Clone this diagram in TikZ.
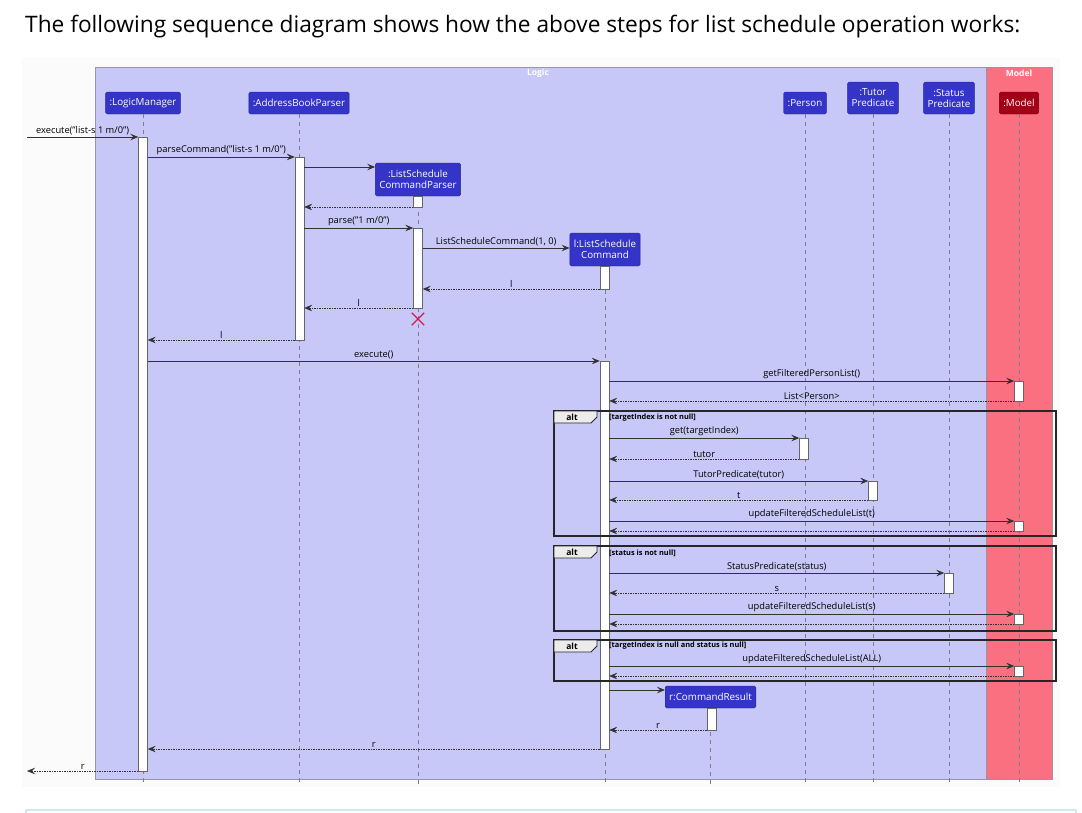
\documentclass[tikz,border=0pt]{standalone}
\usepackage{fontspec}
\setmainfont{Open Sans}
\usetikzlibrary{arrows.meta, shapes.misc}
\definecolor{pagegray}{RGB}{251,251,251}
\definecolor{logicfill}{RGB}{200,200,248}
\definecolor{modelfill}{RGB}{250,112,128}
\definecolor{framegray}{RGB}{150,150,165}
\definecolor{partblue}{RGB}{52,52,200}
\definecolor{partred}{RGB}{163,0,24}
\definecolor{msgdark}{RGB}{50,50,50}
\definecolor{lifegray}{RGB}{125,125,140}
\definecolor{destroyred}{RGB}{205,30,75}
\definecolor{notecyan}{RGB}{205,236,242}
\begin{document}
\begin{tikzpicture}[x=1pt, y=-1pt,
    participant/.style={fill=partblue, draw=partblue!70!black, rounded corners=1.5pt, text=white, font=\fontsize{9.8}{11}\selectfont, align=center, inner xsep=4pt, inner ysep=2pt, minimum height=22pt},
    activation/.style={draw=gray!80!black, fill=white, minimum width=9pt, inner sep=0pt, anchor=north},
    lifeline/.style={lifegray, dash pattern=on 4pt off 4pt, line width=0.6pt},
    call/.style={msgdark, line width=0.8pt, -{Stealth[length=8pt, width=6.5pt, inset=3pt]}},
    reply/.style={call, line width=0.6pt, dash pattern=on 1.5pt off 1pt},
    msglabel/.style={font=\fontsize{9.3}{10}\selectfont, anchor=south, inner sep=1.5pt, text=black},
    altframe/.style={draw=black!85, line width=1.3pt},
    alttab/.style={draw=black!85, line width=0.8pt, fill=gray!15},
    alttext/.style={font=\bfseries\fontsize{8.5}{9}\selectfont},
    guard/.style={font=\bfseries\fontsize{7.4}{8}\selectfont, anchor=west, inner sep=0pt},
    frametitle/.style={text=white, font=\bfseries\fontsize{8.5}{9}\selectfont}]
    \useasboundingbox (0, 0) rectangle (1082, 812);
    \fill [pagegray] (22, 58) rectangle (1060, 787);
    \draw [notecyan, line width=1.2pt] (26, 814) -- (26, 810) -- (1076, 810) -- (1076, 814);
    \node [anchor=base west, inner sep=0pt, font=\fontsize{22.7}{25}\selectfont] (title) at (25, 32) {The following sequence diagram shows how the above steps for list schedule operation works:};

    \draw [framegray, fill=logicfill] (95, 67) rectangle (986, 779);
    \draw [framegray, fill=modelfill] (986, 67) rectangle (1052, 779);
    \node [frametitle] (logictitle) at (538, 73) {Logic};
    \node [frametitle] (modeltitle) at (1019, 73) {Model};

    \node [participant] (lm) at (143, 103) {:LogicManager};
    \node [participant] (abp) at (299, 103) {:AddressBookParser};
    \node [participant, minimum height=33pt] (lscp) at (418, 179.5) {:ListSchedule\\CommandParser};
    \node [participant, minimum height=33pt] (lsc) at (605, 249.5) {l:ListSchedule\\Command};
    \node [participant] (person) at (805, 103) {:Person};
    \node [participant, minimum height=32pt] (tutor) at (873, 98) {:Tutor\\Predicate};
    \node [participant, minimum height=32pt] (status) at (949, 98) {:Status\\Predicate};
    \node [participant, fill=partred, draw=partred!70!black] (model) at (1019, 103) {:Model};
    \node [participant] (cr) at (710.5, 697) {r:CommandResult};

    \foreach \p in {lm, abp, lscp, lsc, person, tutor, status, model, cr}
        \draw [lifeline] (\p.south) -- (\p.south |- 0, 785);

    \node [activation, minimum height=634pt] (actlm) at (143, 137) {};
    \node [activation, minimum height=183pt] (actabp) at (299.5, 157) {};
    \node [activation, minimum height=11pt] (actlscpa) at (418, 196) {};
    \node [activation, minimum height=80pt] (actlscpb) at (418, 228) {};
    \node [activation, minimum height=23pt] (actlsca) at (604.5, 266) {};
    \node [activation, minimum height=388pt] (actlscb) at (604.5, 361) {};
    \node [activation, minimum height=20pt] (actmodela) at (1019, 381) {};
    \node [activation, minimum height=21pt] (actperson) at (804, 438) {};
    \node [activation, minimum height=19pt] (acttutor) at (873, 481) {};
    \node [activation, minimum height=10pt] (actmodelb) at (1019, 521) {};
    \node [activation, minimum height=20pt] (actstatus) at (949, 573) {};
    \node [activation, minimum height=10pt] (actmodelc) at (1019, 614) {};
    \node [activation, minimum height=10pt] (actmodeld) at (1019, 666) {};
    \node [activation, minimum height=22pt] (actcr) at (711.5, 708) {};

    \coordinate (entry) at (27, 137);
    \coordinate (exit) at (27, 771);
    \node [draw=destroyred, cross out, line width=1.3pt, minimum size=11pt, inner sep=0pt] (lscpend) at (418, 319) {};

    \draw [call] (entry) -- (actlm.west |- entry) node [msglabel, midway] {execute("list-s 1 m/0")};
    \draw [call] (actlm.east |- 0, 157) -- (actabp.west |- 0, 157) node [msglabel, midway] {parseCommand("list-s 1 m/0")};
    \draw [call] (actabp.east |- 0, 167) -- (lscp.west |- 0, 167);
    \draw [reply] (actlscpa.west |- 0, 207) -- (actabp.east |- 0, 207);
    \draw [call] (actabp.east |- 0, 228) -- (actlscpb.west |- 0, 228) node [msglabel, midway] {parse("1 m/0")};
    \draw [call] (actlscpb.east |- 0, 248) -- (lsc.west |- 0, 248) node [msglabel, midway] {ListScheduleCommand(1, 0)};
    \draw [reply] (actlsca.west |- 0, 289) -- (actlscpb.east |- 0, 289) node [msglabel, midway] {l};
    \draw [reply] (actlscpb.west |- 0, 308) -- (actabp.east |- 0, 308) node [msglabel, midway] {l};
    \draw [reply] (actabp.west |- 0, 340) -- (actlm.east |- 0, 340) node [msglabel, midway] {l};
    \draw [call] (actlm.east |- 0, 361) -- (actlscb.west |- 0, 361) node [msglabel, midway] {execute()};
    \draw [call] (actlscb.east |- 0, 381) -- (actmodela.west |- 0, 381) node [msglabel, midway] {getFilteredPersonList()};
    \draw [reply] (actmodela.west |- 0, 401) -- (actlscb.east |- 0, 401) node [msglabel, midway] {List<Person>};
    \draw [call] (actlscb.east |- 0, 438) -- (actperson.west |- 0, 438) node [msglabel, midway] {get(targetIndex)};
    \draw [reply] (actperson.west |- 0, 459) -- (actlscb.east |- 0, 459) node [msglabel, midway] {tutor};
    \draw [call] (actlscb.east |- 0, 481) -- (acttutor.west |- 0, 481) node [msglabel, midway] {TutorPredicate(tutor)};
    \draw [reply] (acttutor.west |- 0, 500) -- (actlscb.east |- 0, 500) node [msglabel, midway] {t};
    \draw [call] (actlscb.east |- 0, 521) -- (actmodelb.west |- 0, 521) node [msglabel, midway] {updateFilteredScheduleList(t)};
    \draw [reply] (actmodelb.west |- 0, 531) -- (actlscb.east |- 0, 531);
    \draw [call] (actlscb.east |- 0, 573) -- (actstatus.west |- 0, 573) node [msglabel, midway] {StatusPredicate(status)};
    \draw [reply] (actstatus.west |- 0, 593) -- (actlscb.east |- 0, 593) node [msglabel, midway] {s};
    \draw [call] (actlscb.east |- 0, 614) -- (actmodelc.west |- 0, 614) node [msglabel, midway] {updateFilteredScheduleList(s)};
    \draw [reply] (actmodelc.west |- 0, 624) -- (actlscb.east |- 0, 624);
    \draw [call] (actlscb.east |- 0, 666) -- (actmodeld.west |- 0, 666) node [msglabel, midway] {updateFilteredScheduleList(ALL)};
    \draw [reply] (actmodeld.west |- 0, 676) -- (actlscb.east |- 0, 676);
    \draw [call] (actlscb.east |- 0, 690) -- (cr.west |- 0, 690);
    \draw [reply] (actcr.west |- 0, 730) -- (actlscb.east |- 0, 730) node [msglabel, midway] {r};
    \draw [reply] (actlscb.west |- 0, 749) -- (actlm.east |- 0, 749) node [msglabel, midway] {r};
    \draw [reply] (actlm.west |- exit) -- (exit) node [msglabel, midway] {r};

    \draw [altframe] (554, 411) rectangle (1056, 536);
    \draw [alttab] (554, 411) -- (597, 411) -- (597, 417) -- (591, 423) -- (554, 423) -- cycle;
    \node [alttext] (altone) at (572, 417) {alt};
    \node [guard] (guardone) at (609, 418) {[targetIndex is not null]};
    \draw [altframe] (554, 546) rectangle (1056, 631);
    \draw [alttab] (554, 546) -- (597, 546) -- (597, 552) -- (591, 558) -- (554, 558) -- cycle;
    \node [alttext] (alttwo) at (572, 552) {alt};
    \node [guard] (guardtwo) at (609, 553) {[status is not null]};
    \draw [altframe] (554, 640) rectangle (1056, 681);
    \draw [alttab] (554, 640) -- (597, 640) -- (597, 646) -- (591, 652) -- (554, 652) -- cycle;
    \node [alttext] (altthree) at (572, 646) {alt};
    \node [guard] (guardthree) at (609, 646) {[targetIndex is null and status is null]};
\end{tikzpicture}
\end{document}
